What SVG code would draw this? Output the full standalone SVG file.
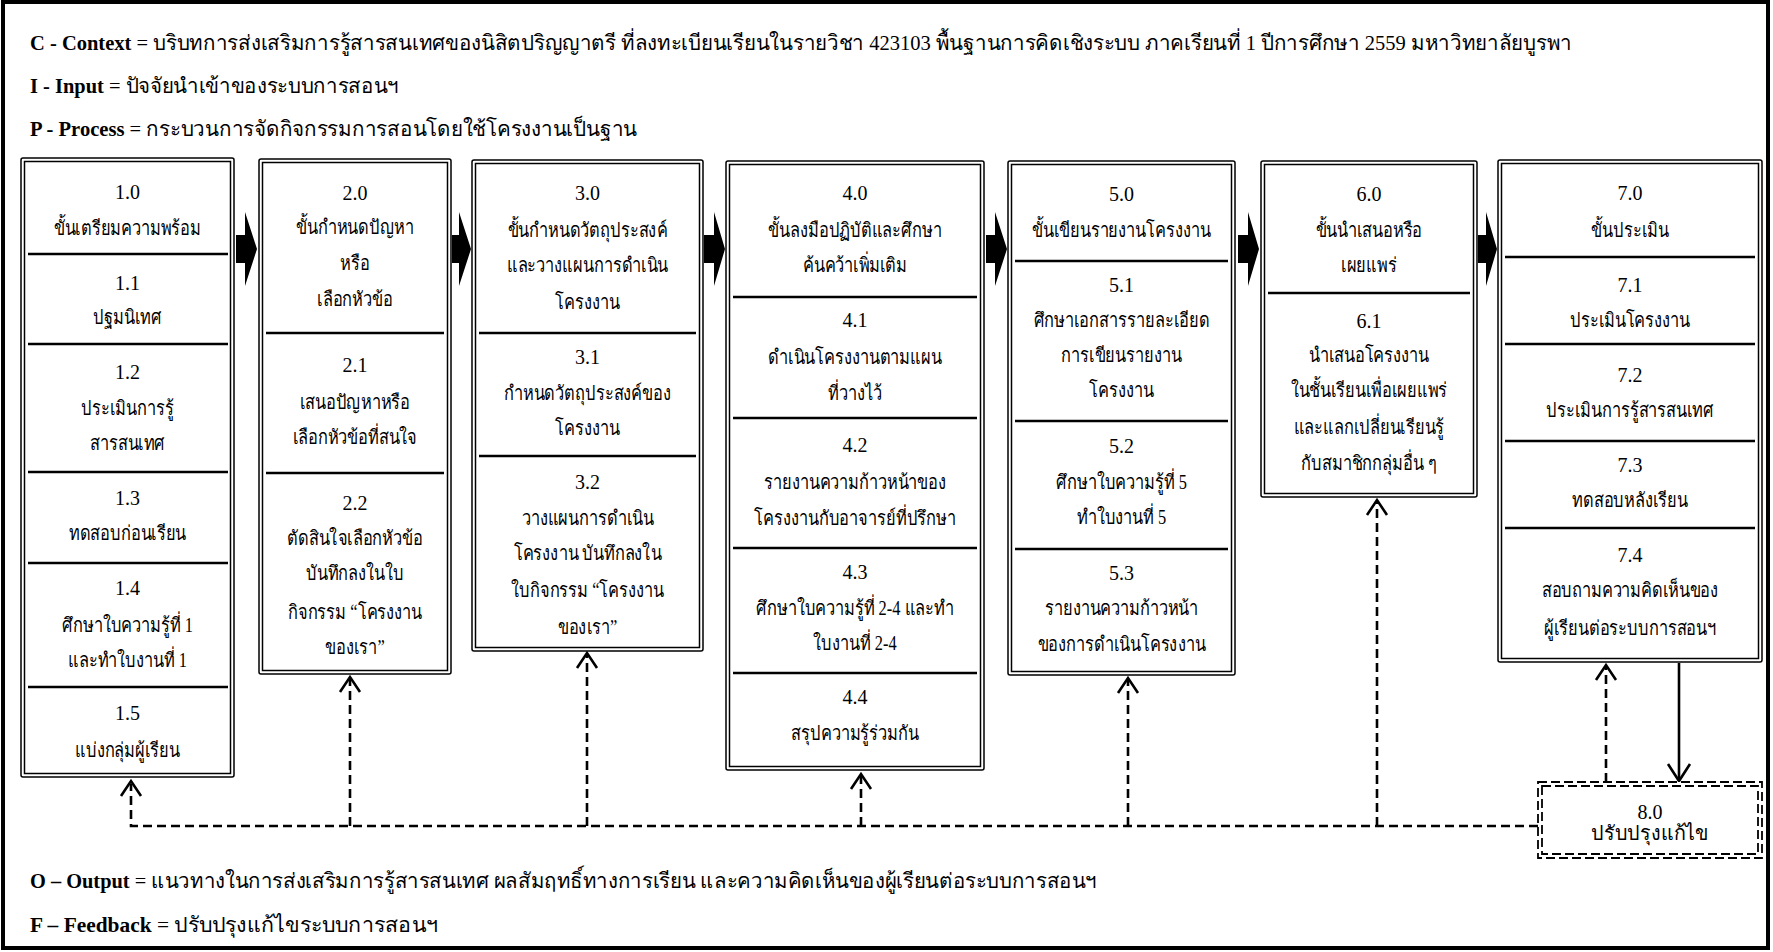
<svg xmlns="http://www.w3.org/2000/svg" width="1773" height="952" viewBox="0 0 1773 952">
<style>
  .h { font-family: "Liberation Serif", "DejaVu Serif", serif; font-size: 21px; fill: #000; }
  .b { font-weight: bold; }
  .t { font-family: "Liberation Serif", "DejaVu Serif", serif; font-size: 20px; fill: #000; text-anchor: middle; }
  .bo { fill: #fff; stroke: #000; stroke-width: 1.5; }
  .bi { fill: none; stroke: #000; stroke-width: 1.5; }
  .dv { stroke: #000; stroke-width: 2.6; }
  .fb { fill: none; stroke: #000; stroke-width: 2.6; stroke-dasharray: 9 5; }
  .hd { fill: none; stroke: #000; stroke-width: 2.6; }
  .blk { fill: #000; }
  .db { fill: #fff; stroke: #000; stroke-width: 1.8; stroke-dasharray: 9 4; }
  .dbi { fill: none; stroke: #000; stroke-width: 1.8; stroke-dasharray: 9 4; }
</style>

<!-- outer frame -->
<rect x="3" y="2" width="1765" height="946" fill="#fff" stroke="#000" stroke-width="4"/>

<!-- CIPOF headings -->
<g id="headings">
  <text class="h" x="30" y="50" textLength="1542" lengthAdjust="spacingAndGlyphs"><tspan class="b">C - Context</tspan> = บริบทการส่งเสริมการรู้สารสนเทศของนิสิตปริญญาตรี ที่ลงทะเบียนเรียนในรายวิชา 423103 พื้นฐานการคิดเชิงระบบ ภาคเรียนที่ 1 ปีการศึกษา 2559 มหาวิทยาลัยบูรพา</text>
  <text class="h" x="30" y="93" textLength="369" lengthAdjust="spacingAndGlyphs"><tspan class="b">I - Input</tspan> = ปัจจัยนำเข้าของระบบการสอนฯ</text>
  <text class="h" x="30" y="136" textLength="607" lengthAdjust="spacingAndGlyphs"><tspan class="b">P - Process</tspan> = กระบวนการจัดกิจกรรมการสอนโดยใช้โครงงานเป็นฐาน</text>
  <text class="h" x="30" y="888" textLength="1067" lengthAdjust="spacingAndGlyphs"><tspan class="b">O – Output</tspan> = แนวทางในการส่งเสริมการรู้สารสนเทศ ผลสัมฤทธิ์ทางการเรียน และความคิดเห็นของผู้เรียนต่อระบบการสอนฯ</text>
  <text class="h" x="30" y="932" textLength="408" lengthAdjust="spacingAndGlyphs"><tspan class="b">F – Feedback</tspan> = ปรับปรุงแก้ไขระบบการสอนฯ</text>
</g>

<!-- flow arrows between steps -->
<g id="flow-arrows">
  <polygon class="blk" points="236,235 245,235 245,212 257,249 245,286 245,263 236,263"/>
  <polygon class="blk" points="452,235 459,235 459,212 471,249 459,286 459,263 452,263"/>
  <polygon class="blk" points="704,235 714,235 714,212 725,249 714,286 714,263 704,263"/>
  <polygon class="blk" points="986,235 995,235 995,212 1007,249 995,286 995,263 986,263"/>
  <polygon class="blk" points="1238,235 1248,235 1248,212 1259,249 1248,286 1248,263 1238,263"/>
  <polygon class="blk" points="1478,235 1486,235 1486,212 1497,249 1486,286 1486,263 1478,263"/>
</g>

<!-- feedback connectors -->
<g id="connectors">
  <path class="fb" d="M1538,826 H131 V784"/>
  <path class="fb" d="M350,826 V679"/>
  <path class="fb" d="M587,826 V655"/>
  <path class="fb" d="M861,826 V776"/>
  <path class="fb" d="M1128,826 V680"/>
  <path class="fb" d="M1377,826 V502"/>
  <path class="fb" d="M1606,782 V667"/>
  <path class="hd" d="M121,796 L131,781 L141,796"/>
  <path class="hd" d="M340,692 L350,677 L360,692"/>
  <path class="hd" d="M577,668 L587,653 L597,668"/>
  <path class="hd" d="M851,789 L861,774 L871,789"/>
  <path class="hd" d="M1118,693 L1128,678 L1138,693"/>
  <path class="hd" d="M1367,515 L1377,500 L1387,515"/>
  <path class="hd" d="M1596,680 L1606,665 L1616,680"/>
  <path d="M1679,663 V781" stroke="#000" stroke-width="2.6"/>
  <path class="hd" d="M1668,764 L1679,781 L1690,764"/>
</g>

<g id="step1">
  <rect class="bo" x="21" y="158" width="213" height="619" rx="2"/>
  <rect class="bi" x="24.5" y="161.5" width="206" height="612"/>
  <line class="dv" x1="28" y1="254" x2="228" y2="254"/>
  <line class="dv" x1="28" y1="344" x2="228" y2="344"/>
  <line class="dv" x1="28" y1="472" x2="228" y2="472"/>
  <line class="dv" x1="28" y1="563" x2="228" y2="563"/>
  <line class="dv" x1="28" y1="687" x2="228" y2="687"/>
  <text class="t" x="127.5" y="199">1.0</text>
  <text class="t" x="127.5" y="290">1.1</text>
  <text class="t" x="127.5" y="379">1.2</text>
  <text class="t" x="127.5" y="505">1.3</text>
  <text class="t" x="127.5" y="595">1.4</text>
  <text class="t" x="127.5" y="720">1.5</text>
  <g transform="translate(127.5 0) scale(0.82 1)">
    <text class="t" x="0" y="235">ขั้นเตรียมความพร้อม</text>
    <text class="t" x="0" y="324">ปฐมนิเทศ</text>
    <text class="t" x="0" y="415">ประเมินการรู้</text>
    <text class="t" x="0" y="450">สารสนเทศ</text>
    <text class="t" x="0" y="540">ทดสอบก่อนเรียน</text>
    <text class="t" x="0" y="632">ศึกษาใบความรู้ที่ 1</text>
    <text class="t" x="0" y="667">และทำใบงานที่ 1</text>
    <text class="t" x="0" y="757">แบ่งกลุ่มผู้เรียน</text>
  </g>
</g>

<g id="step2">
  <rect class="bo" x="259" y="159" width="192" height="515" rx="2"/>
  <rect class="bi" x="262.5" y="162.5" width="185" height="508"/>
  <line class="dv" x1="266" y1="333" x2="444" y2="333"/>
  <line class="dv" x1="266" y1="473" x2="444" y2="473"/>
  <text class="t" x="355" y="200">2.0</text>
  <text class="t" x="355" y="372">2.1</text>
  <text class="t" x="355" y="510">2.2</text>
  <g transform="translate(355 0) scale(0.82 1)">
    <text class="t" x="0" y="234">ขั้นกำหนดปัญหา</text>
    <text class="t" x="0" y="270">หรือ</text>
    <text class="t" x="0" y="306">เลือกหัวข้อ</text>
    <text class="t" x="0" y="409">เสนอปัญหาหรือ</text>
    <text class="t" x="0" y="444">เลือกหัวข้อที่สนใจ</text>
    <text class="t" x="0" y="545">ตัดสินใจเลือกหัวข้อ</text>
    <text class="t" x="0" y="580">บันทึกลงในใบ</text>
    <text class="t" x="0" y="619">กิจกรรม “โครงงาน</text>
    <text class="t" x="0" y="654">ของเรา”</text>
  </g>
</g>

<g id="step3">
  <rect class="bo" x="472" y="160" width="231" height="491" rx="2"/>
  <rect class="bi" x="475.5" y="163.5" width="224" height="484"/>
  <line class="dv" x1="479" y1="333" x2="696" y2="333"/>
  <line class="dv" x1="479" y1="456" x2="696" y2="456"/>
  <text class="t" x="587.5" y="200">3.0</text>
  <text class="t" x="587.5" y="364">3.1</text>
  <text class="t" x="587.5" y="489">3.2</text>
  <g transform="translate(587.5 0) scale(0.82 1)">
    <text class="t" x="0" y="237">ขั้นกำหนดวัตถุประสงค์</text>
    <text class="t" x="0" y="272">และวางแผนการดำเนิน</text>
    <text class="t" x="0" y="309">โครงงาน</text>
    <text class="t" x="0" y="400">กำหนดวัตถุประสงค์ของ</text>
    <text class="t" x="0" y="435">โครงงาน</text>
    <text class="t" x="0" y="525">วางแผนการดำเนิน</text>
    <text class="t" x="0" y="560">โครงงาน บันทึกลงใน</text>
    <text class="t" x="0" y="597">ใบกิจกรรม “โครงงาน</text>
    <text class="t" x="0" y="634">ของเรา”</text>
  </g>
</g>

<g id="step4">
  <rect class="bo" x="726" y="161" width="258" height="609" rx="2"/>
  <rect class="bi" x="729.5" y="164.5" width="251" height="602"/>
  <line class="dv" x1="733" y1="297" x2="977" y2="297"/>
  <line class="dv" x1="733" y1="418" x2="977" y2="418"/>
  <line class="dv" x1="733" y1="548" x2="977" y2="548"/>
  <line class="dv" x1="733" y1="673" x2="977" y2="673"/>
  <text class="t" x="855" y="200">4.0</text>
  <text class="t" x="855" y="327">4.1</text>
  <text class="t" x="855" y="452">4.2</text>
  <text class="t" x="855" y="579">4.3</text>
  <text class="t" x="855" y="704">4.4</text>
  <g transform="translate(855 0) scale(0.82 1)">
    <text class="t" x="0" y="237">ขั้นลงมือปฏิบัติและศึกษา</text>
    <text class="t" x="0" y="272">ค้นคว้าเพิ่มเติม</text>
    <text class="t" x="0" y="364">ดำเนินโครงงานตามแผน</text>
    <text class="t" x="0" y="400">ที่วางไว้</text>
    <text class="t" x="0" y="489">รายงานความก้าวหน้าของ</text>
    <text class="t" x="0" y="525">โครงงานกับอาจารย์ที่ปรึกษา</text>
    <text class="t" x="0" y="615">ศึกษาใบความรู้ที่ 2-4 และทำ</text>
    <text class="t" x="0" y="650">ใบงานที่ 2-4</text>
    <text class="t" x="0" y="740">สรุปความรู้ร่วมกัน</text>
  </g>
</g>

<g id="step5">
  <rect class="bo" x="1008" y="161" width="227" height="514" rx="2"/>
  <rect class="bi" x="1011.5" y="164.5" width="220" height="507"/>
  <line class="dv" x1="1015" y1="261" x2="1228" y2="261"/>
  <line class="dv" x1="1015" y1="421" x2="1228" y2="421"/>
  <line class="dv" x1="1015" y1="549" x2="1228" y2="549"/>
  <text class="t" x="1121.5" y="201">5.0</text>
  <text class="t" x="1121.5" y="292">5.1</text>
  <text class="t" x="1121.5" y="453">5.2</text>
  <text class="t" x="1121.5" y="580">5.3</text>
  <g transform="translate(1121.5 0) scale(0.82 1)">
    <text class="t" x="0" y="237">ขั้นเขียนรายงานโครงงาน</text>
    <text class="t" x="0" y="327">ศึกษาเอกสารรายละเอียด</text>
    <text class="t" x="0" y="362">การเขียนรายงาน</text>
    <text class="t" x="0" y="397">โครงงาน</text>
    <text class="t" x="0" y="489">ศึกษาใบความรู้ที่ 5</text>
    <text class="t" x="0" y="524">ทำใบงานที่ 5</text>
    <text class="t" x="0" y="615">รายงานความก้าวหน้า</text>
    <text class="t" x="0" y="651">ของการดำเนินโครงงาน</text>
  </g>
</g>

<g id="step6">
  <rect class="bo" x="1261" y="161" width="216" height="336" rx="2"/>
  <rect class="bi" x="1264.5" y="164.5" width="209" height="329"/>
  <line class="dv" x1="1268" y1="293" x2="1470" y2="293"/>
  <text class="t" x="1369" y="201">6.0</text>
  <text class="t" x="1369" y="328">6.1</text>
  <g transform="translate(1369 0) scale(0.82 1)">
    <text class="t" x="0" y="237">ขั้นนำเสนอหรือ</text>
    <text class="t" x="0" y="272">เผยแพร่</text>
    <text class="t" x="0" y="362">นำเสนอโครงงาน</text>
    <text class="t" x="0" y="397">ในชั้นเรียนเพื่อเผยแพร่</text>
    <text class="t" x="0" y="434">และแลกเปลี่ยนเรียนรู้</text>
    <text class="t" x="0" y="470">กับสมาชิกกลุ่มอื่น ๆ</text>
  </g>
</g>

<g id="step7">
  <rect class="bo" x="1498" y="160" width="264" height="502" rx="2"/>
  <rect class="bi" x="1501.5" y="163.5" width="257" height="495"/>
  <line class="dv" x1="1505" y1="257" x2="1755" y2="257"/>
  <line class="dv" x1="1505" y1="344" x2="1755" y2="344"/>
  <line class="dv" x1="1505" y1="441" x2="1755" y2="441"/>
  <line class="dv" x1="1505" y1="528" x2="1755" y2="528"/>
  <text class="t" x="1630" y="200">7.0</text>
  <text class="t" x="1630" y="292">7.1</text>
  <text class="t" x="1630" y="382">7.2</text>
  <text class="t" x="1630" y="472">7.3</text>
  <text class="t" x="1630" y="562">7.4</text>
  <g transform="translate(1630 0) scale(0.82 1)">
    <text class="t" x="0" y="237">ขั้นประเมิน</text>
    <text class="t" x="0" y="327">ประเมินโครงงาน</text>
    <text class="t" x="0" y="417">ประเมินการรู้สารสนเทศ</text>
    <text class="t" x="0" y="507">ทดสอบหลังเรียน</text>
    <text class="t" x="0" y="597">สอบถามความคิดเห็นของ</text>
    <text class="t" x="0" y="635">ผู้เรียนต่อระบบการสอนฯ</text>
  </g>
</g>

<g id="step8">
  <rect class="db" x="1538" y="782" width="224" height="76"/>
  <rect class="dbi" x="1542" y="786" width="216" height="68"/>
  <text class="t" x="1650" y="819">8.0</text>
  <text class="t" x="1650" y="840" textLength="118" lengthAdjust="spacingAndGlyphs">ปรับปรุงแก้ไข</text>
</g>
</svg>
